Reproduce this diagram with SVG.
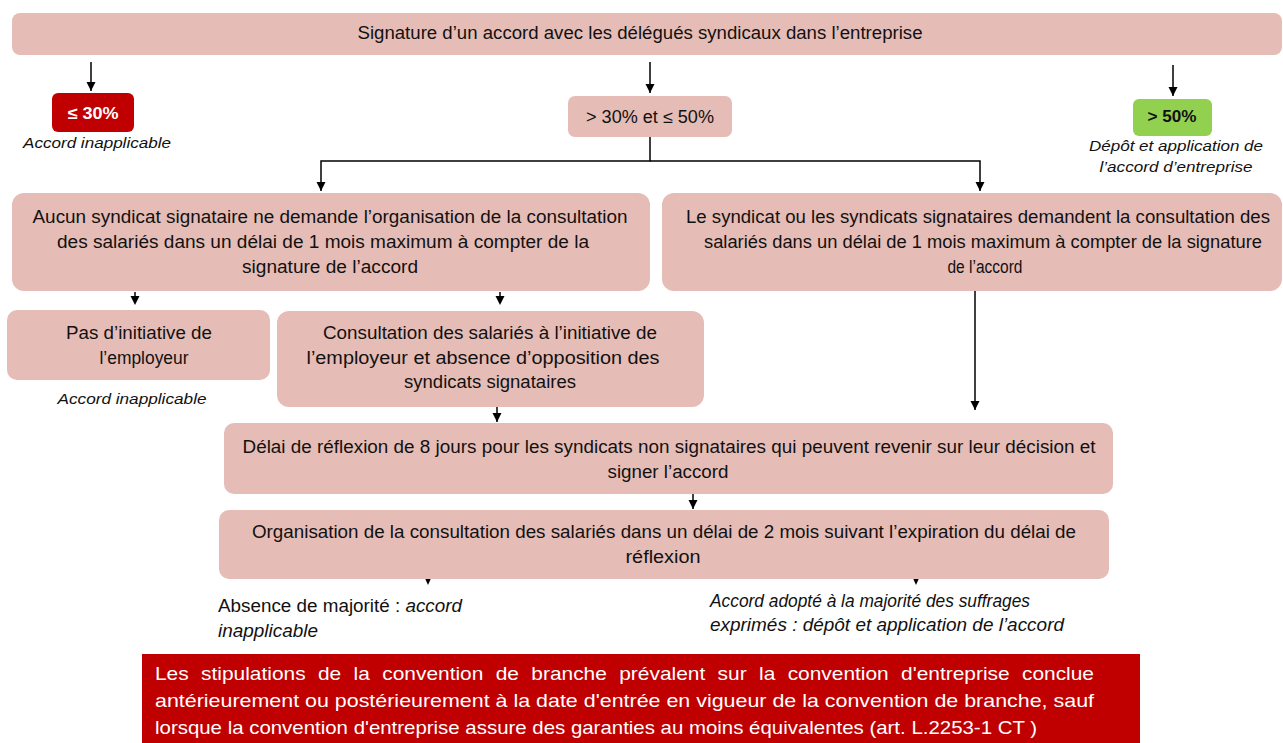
<svg xmlns="http://www.w3.org/2000/svg" width="1283" height="743" viewBox="0 0 1283 743">
<style>
.box{fill:#E6BCB6}
.t{font-family:"Liberation Sans",Arial,sans-serif;font-size:17.5px;fill:#111}
.i{font-family:"Liberation Sans",Arial,sans-serif;font-size:15px;font-style:italic;fill:#111}
.w{font-family:"Liberation Sans",Arial,sans-serif;font-size:19px;fill:#fff}
.b{font-family:"Liberation Sans",Arial,sans-serif;font-size:16.5px;font-weight:bold}
.c{fill:none;stroke:#000;stroke-width:1.5}
.h{fill:#000}
</style>
<defs>
<marker id="ah" markerUnits="userSpaceOnUse" markerWidth="10" markerHeight="10" refX="9" refY="5" orient="auto">
<path d="M0,0.5 L9,5 L0,9.5 Z" fill="#000"/>
</marker>
</defs>
<rect width="1283" height="743" fill="#fff"/>
<g id="connectors">
<path class="c" d="M91,62 V91" marker-end="url(#ah)"/>
<path class="c" d="M650,62 V93" marker-end="url(#ah)"/>
<path class="c" d="M1173,65 V96" marker-end="url(#ah)"/>
<path class="c" d="M650,137 V161 H321 V191" marker-end="url(#ah)"/>
<path class="c" d="M650,161 H980 V191" marker-end="url(#ah)"/>
<path class="c" d="M135,292 V297"/>
<path class="h" d="M130.5,296 L139.5,296 L135,305 Z"/>
<path class="c" d="M500,292 V297"/>
<path class="h" d="M495.5,296 L504.5,296 L500,305 Z"/>
<path class="c" d="M497,398 V422" marker-end="url(#ah)"/>
<path class="c" d="M975,291 V410" marker-end="url(#ah)"/>
<path class="c" d="M693,489 V509" marker-end="url(#ah)"/>
<path class="h" d="M423.5,575 L432.5,575 L428,585 Z"/>
<path class="h" d="M911.5,575 L920.5,575 L916,585 Z"/>
</g>
<g id="top">
<rect class="box" x="12" y="13" width="1270" height="42" rx="8"/>
<text class="t" x="640" y="39" text-anchor="middle" textLength="565" lengthAdjust="spacingAndGlyphs">Signature d’un accord avec les délégués syndicaux dans l’entreprise</text>
</g>
<g id="n30">
<rect x="52" y="93" width="82" height="39" rx="6" fill="#C00000"/>
<text class="b" x="93" y="119" text-anchor="middle" fill="#fff" textLength="51" lengthAdjust="spacingAndGlyphs">≤ 30%</text>
<text class="i" x="97" y="148" text-anchor="middle" textLength="148" lengthAdjust="spacingAndGlyphs">Accord inapplicable</text>
</g>
<g id="n3050">
<rect class="box" x="568" y="96" width="164" height="41" rx="7"/>
<text class="t" x="650" y="123" text-anchor="middle" textLength="128" lengthAdjust="spacingAndGlyphs">&gt; 30% et ≤ 50%</text>
</g>
<g id="n50">
<rect x="1133" y="99" width="79" height="37" rx="6" fill="#92D050"/>
<text class="b" x="1172" y="122" text-anchor="middle" fill="#111" textLength="49" lengthAdjust="spacingAndGlyphs">&gt; 50%</text>
<text class="i" x="1176" y="151" text-anchor="middle" textLength="174" lengthAdjust="spacingAndGlyphs">Dépôt et application de</text>
<text class="i" x="1176" y="172" text-anchor="middle" textLength="153" lengthAdjust="spacingAndGlyphs">l’accord d’entreprise</text>
</g>
<g id="aucun">
<rect class="box" x="12" y="193" width="638" height="98" rx="12"/>
<text class="t" x="330" y="223" text-anchor="middle" textLength="595" lengthAdjust="spacingAndGlyphs">Aucun syndicat signataire ne demande l’organisation de la consultation</text>
<text class="t" x="323" y="248" text-anchor="middle" textLength="532" lengthAdjust="spacingAndGlyphs">des salariés dans un délai de 1 mois maximum à compter de la</text>
<text class="t" x="330" y="273" text-anchor="middle" textLength="176" lengthAdjust="spacingAndGlyphs">signature de l’accord</text>
</g>
<g id="syndicat">
<rect class="box" x="662" y="193" width="620" height="98" rx="12"/>
<text class="t" x="978" y="223" text-anchor="middle" textLength="584" lengthAdjust="spacingAndGlyphs">Le syndicat ou les syndicats signataires demandent la consultation des</text>
<text class="t" x="983" y="248" text-anchor="middle" textLength="558" lengthAdjust="spacingAndGlyphs">salariés dans un délai de 1 mois maximum à compter de la signature</text>
<text class="t" x="985" y="273" text-anchor="middle" textLength="75" lengthAdjust="spacingAndGlyphs">de l’accord</text>
</g>
<g id="pas">
<rect class="box" x="7" y="310" width="263" height="70" rx="10"/>
<text class="t" x="139" y="339" text-anchor="middle" textLength="146" lengthAdjust="spacingAndGlyphs">Pas d’initiative de</text>
<text class="t" x="144" y="364" text-anchor="middle" textLength="89" lengthAdjust="spacingAndGlyphs">l’employeur</text>
<text class="i" x="132" y="404" text-anchor="middle" textLength="149" lengthAdjust="spacingAndGlyphs">Accord inapplicable</text>
</g>
<g id="consult">
<rect class="box" x="277" y="311" width="427" height="96" rx="12"/>
<text class="t" x="490" y="339" text-anchor="middle" textLength="334" lengthAdjust="spacingAndGlyphs">Consultation des salariés à l’initiative de</text>
<text class="t" x="483" y="364" text-anchor="middle" textLength="353" lengthAdjust="spacingAndGlyphs">l’employeur et absence d’opposition des</text>
<text class="t" x="490" y="388" text-anchor="middle" textLength="172" lengthAdjust="spacingAndGlyphs">syndicats signataires</text>
</g>
<g id="delai">
<rect class="box" x="224" y="423" width="889" height="71" rx="10"/>
<text class="t" x="669" y="453" text-anchor="middle" textLength="853" lengthAdjust="spacingAndGlyphs">Délai de réflexion de 8 jours pour les syndicats non signataires qui peuvent revenir sur leur décision et</text>
<text class="t" x="668" y="478" text-anchor="middle" textLength="121" lengthAdjust="spacingAndGlyphs">signer l’accord</text>
</g>
<g id="orga">
<rect class="box" x="219" y="510" width="890" height="69" rx="10"/>
<text class="t" x="664" y="538" text-anchor="middle" textLength="824" lengthAdjust="spacingAndGlyphs">Organisation de la consultation des salariés dans un délai de 2 mois suivant l’expiration du délai de</text>
<text class="t" x="663" y="563" text-anchor="middle" textLength="75" lengthAdjust="spacingAndGlyphs">réflexion</text>
</g>
<g id="absence">
<text class="t" x="218" y="612" textLength="244" lengthAdjust="spacingAndGlyphs">Absence de majorité : <tspan font-style="italic">accord</tspan></text>
<text class="t" x="218" y="637" font-style="italic" textLength="100" lengthAdjust="spacingAndGlyphs">inapplicable</text>
</g>
<g id="adopte">
<text class="t" x="710" y="607" font-style="italic" textLength="320" lengthAdjust="spacingAndGlyphs">Accord adopté à la majorité des suffrages</text>
<text class="t" x="710" y="631" font-style="italic" textLength="354" lengthAdjust="spacingAndGlyphs">exprimés : dépôt et application de l’accord</text>
</g>
<g id="note">
<rect x="142" y="654" width="998" height="89" fill="#C00000"/>
<text class="w" x="155" y="680" textLength="939" lengthAdjust="spacingAndGlyphs" word-spacing="6">Les stipulations de la convention de branche prévalent sur la convention d'entreprise conclue</text>
<text class="w" x="155" y="707" textLength="939" lengthAdjust="spacingAndGlyphs">antérieurement ou postérieurement à la date d'entrée en vigueur de la convention de branche, sauf</text>
<text class="w" x="155" y="734" textLength="882" lengthAdjust="spacingAndGlyphs">lorsque la convention d'entreprise assure des garanties au moins équivalentes (art. L.2253-1 CT )</text>
</g>
</svg>
